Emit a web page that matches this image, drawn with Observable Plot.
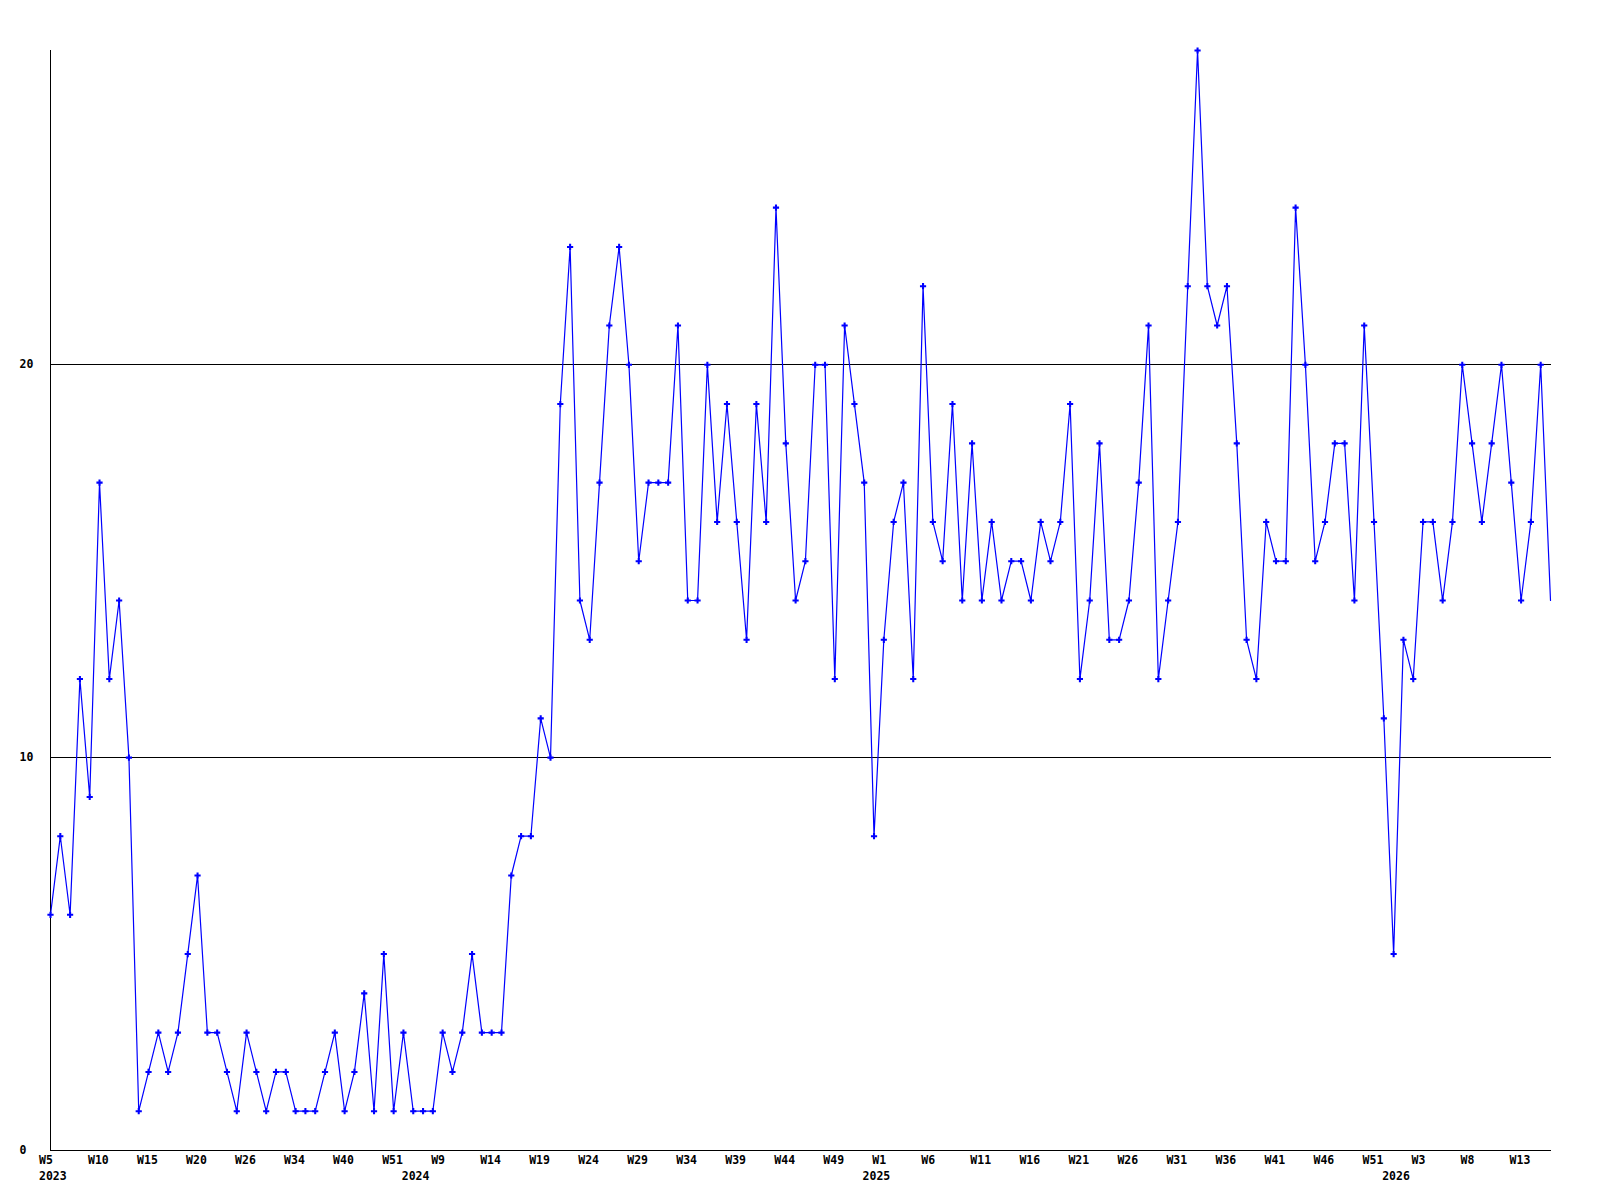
<!DOCTYPE html>
<html>
<head>
<meta charset="utf-8">
<script src="https://cdn.jsdelivr.net/npm/d3@7"></script>
<script src="https://cdn.jsdelivr.net/npm/@observablehq/plot@0.6"></script>
<style>
  html, body { margin: 0; padding: 0; background: #fff; }
  #chart svg { display: block; }
</style>
</head>
<body>
<div id="chart"></div>
<script>
// weekly counts, in order (x = index of the week in the series)
const values = [
  6,8,6,12,9,17,12,14,10,1,
  2,3,2,3,5,7,3,3,2,1,
  3,2,1,2,2,1,1,1,2,3,
  1,2,4,1,5,1,3,1,1,1,
  3,2,3,5,3,3,3,7,8,8,
  11,10,19,23,14,13,17,21,23,20,
  15,17,17,17,21,14,14,20,16,19,
  16,13,19,16,24,18,14,15,20,20,
  12,21,19,17,8,13,16,17,12,22,
  16,15,19,14,18,14,16,14,15,15,
  14,16,15,16,19,12,14,18,13,13,
  14,17,21,12,14,16,22,28,22,21,
  22,18,13,12,16,15,15,24,20,15,
  16,18,18,14,21,16,11,5,13,12,
  16,16,14,16,20,18,16,18,20,17,
  14,16,20,14
];

// week tick labels, one every 5 weeks of the series
const weekTickLabels = ["W5","W10","W15","W20","W26","W34","W40","W51","W9","W14",
  "W19","W24","W29","W34","W39","W44","W49","W1","W6","W11",
  "W16","W21","W26","W31","W36","W41","W46","W51","W3","W8","W13"];
const weekTickStep = 5;

// year labels and the series index where each year starts
const yearLabels = ["2023","2024","2025","2026"];
const yearStartIndex = [0, 37, 84, 137];

const yTicks = [0, 10, 20];
const yGrid = [10, 20];

const n = values.length;
const data = values.map((v, i) => ({i, v}));
const weekTicks = weekTickLabels.map((t, k) => ({i: k * weekTickStep, t}));
const yearTicks = yearLabels.map((t, k) => ({i: yearStartIndex[k], t}));

const chart = Plot.plot({
  width: 1600,
  height: 1200,
  marginLeft: 50,
  marginRight: 50,
  marginTop: 50,
  marginBottom: 50,
  style: {background: "#fff", fontFamily: "'DejaVu Sans Mono', monospace"},
  x: {domain: [0, n - 1], axis: null},
  y: {domain: [0, 28], axis: null},
  marks: [
    Plot.ruleY(yGrid, {x1: 0, x2: n - 1 + 0.1, stroke: "#000", strokeWidth: 1, shapeRendering: "crispEdges"}),
    Plot.ruleY([0], {x1: 0, x2: n - 1 + 0.1, stroke: "#000", strokeWidth: 1.2, shapeRendering: "crispEdges"}),
    Plot.ruleX([0], {y1: 0, y2: 28, stroke: "#000", strokeWidth: 1.2, shapeRendering: "crispEdges"}),
    Plot.line(data, {x: "i", y: "v", stroke: "#0000ff", strokeWidth: 1.2}),
    Plot.dot(data.slice(0, n - 1), {x: "i", y: "v", symbol: "cross", r: 2.6, fill: "#0000ff", stroke: null}),
    Plot.text(yTicks, {
      y: d => d, text: d => String(d), frameAnchor: "left", dx: -31,
      textAnchor: "start", fill: "#000", fontWeight: "bold", fontSize: 11.5
    }),
    Plot.text(weekTicks, {
      x: "i", text: "t", frameAnchor: "bottom", dy: 13.5, dx: -11.5,
      textAnchor: "start", fill: "#000", fontWeight: "bold", fontSize: 11.5
    }),
    Plot.text(yearTicks, {
      x: "i", text: "t", frameAnchor: "bottom", dy: 29, dx: -11.5,
      textAnchor: "start", fill: "#000", fontWeight: "bold", fontSize: 11.5
    })
  ]
});

document.getElementById("chart").appendChild(chart);
</script>
</body>
</html>
